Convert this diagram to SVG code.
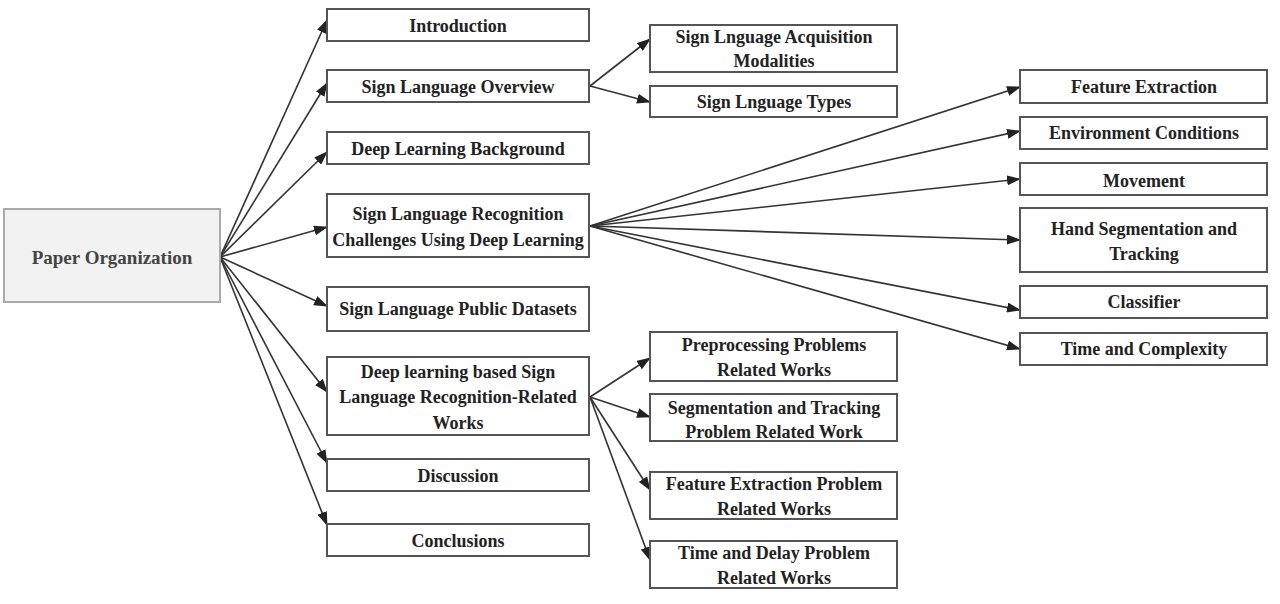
<svg xmlns="http://www.w3.org/2000/svg" width="1280" height="604" viewBox="0 0 1280 604">
<defs>
<marker id="arr" markerUnits="userSpaceOnUse" markerWidth="14" markerHeight="10" refX="13" refY="5" orient="auto">
<path d="M0,0 L14,5 L0,10 Z" fill="#222"/>
</marker>
<style>
.box{fill:#fff;stroke:#555;stroke-width:2}
.root{fill:#f2f2f2;stroke:#aaa;stroke-width:2}
.t{font-family:"Liberation Serif","Times New Roman",serif;font-weight:bold;font-size:18px;fill:#222;text-anchor:middle}
.rt{font-family:"Liberation Serif","Times New Roman",serif;font-weight:bold;font-size:19px;fill:#444;text-anchor:middle}
.c line{stroke:#333;stroke-width:1.6;marker-end:url(#arr)}
</style>
</defs>
<rect width="1280" height="604" fill="#fff"/>
<g class="c" id="connectors">
<line x1="220" y1="257" x2="327" y2="20"/>
<line x1="220" y1="257" x2="327" y2="83"/>
<line x1="220" y1="257" x2="327" y2="152"/>
<line x1="220" y1="257" x2="327" y2="227"/>
<line x1="220" y1="257" x2="327" y2="306"/>
<line x1="220" y1="257" x2="327" y2="392"/>
<line x1="220" y1="257" x2="327" y2="463"/>
<line x1="220" y1="257" x2="327" y2="525"/>
<line x1="590" y1="86" x2="650" y2="39"/>
<line x1="590" y1="86" x2="650" y2="102"/>
<line x1="590" y1="226" x2="1020" y2="87"/>
<line x1="590" y1="226" x2="1020" y2="131"/>
<line x1="590" y1="226" x2="1020" y2="179"/>
<line x1="590" y1="226" x2="1020" y2="240"/>
<line x1="590" y1="226" x2="1020" y2="310"/>
<line x1="590" y1="226" x2="1020" y2="349"/>
<line x1="590" y1="397" x2="650" y2="358"/>
<line x1="590" y1="397" x2="650" y2="417"/>
<line x1="590" y1="397" x2="650" y2="490"/>
<line x1="590" y1="397" x2="650" y2="560"/>
</g>
<g id="root"><rect class="root" x="4" y="209" width="216" height="93"/><text class="rt" x="112" y="264">Paper Organization</text></g>
<g id="intro"><rect class="box" x="327" y="9" width="262" height="32"/><text class="t" x="458" y="32">Introduction</text></g>
<g id="overview"><rect class="box" x="327" y="70" width="262" height="32"/><text class="t" x="458" y="93">Sign Language Overview</text></g>
<g id="dlbg"><rect class="box" x="327" y="132" width="262" height="32"/><text class="t" x="458" y="155">Deep Learning Background</text></g>
<g id="slrc"><rect class="box" x="327" y="194" width="262" height="63"/><text class="t" x="458" y="220">Sign Language Recognition</text><text class="t" x="458" y="246">Challenges Using Deep Learning</text></g>
<g id="datasets"><rect class="box" x="327" y="287" width="262" height="44"/><text class="t" x="458" y="315">Sign Language Public Datasets</text></g>
<g id="dlbased"><rect class="box" x="327" y="357" width="262" height="78"/><text class="t" x="458" y="378">Deep learning based Sign</text><text class="t" x="458" y="403">Language Recognition-Related</text><text class="t" x="458" y="429">Works</text></g>
<g id="discussion"><rect class="box" x="327" y="459" width="262" height="32"/><text class="t" x="458" y="482">Discussion</text></g>
<g id="conclusions"><rect class="box" x="327" y="524" width="262" height="32"/><text class="t" x="458" y="547">Conclusions</text></g>
<g id="acq"><rect class="box" x="650" y="25" width="247" height="47"/><text class="t" x="774" y="43">Sign Lnguage Acquisition</text><text class="t" x="774" y="67">Modalities</text></g>
<g id="types"><rect class="box" x="650" y="86" width="247" height="31"/><text class="t" x="774" y="108">Sign Lnguage Types</text></g>
<g id="prep"><rect class="box" x="650" y="332" width="247" height="49"/><text class="t" x="774" y="351">Preprocessing Problems</text><text class="t" x="774" y="376">Related Works</text></g>
<g id="segtrack"><rect class="box" x="650" y="394" width="247" height="47"/><text class="t" x="774" y="414">Segmentation and Tracking</text><text class="t" x="774" y="438">Problem Related Work</text></g>
<g id="featprob"><rect class="box" x="650" y="472" width="247" height="47"/><text class="t" x="774" y="490">Feature Extraction Problem</text><text class="t" x="774" y="515">Related Works</text></g>
<g id="timedelay"><rect class="box" x="650" y="541" width="247" height="47"/><text class="t" x="774" y="559">Time and Delay Problem</text><text class="t" x="774" y="584">Related Works</text></g>
<g id="featext"><rect class="box" x="1020" y="70" width="247" height="33"/><text class="t" x="1144" y="93">Feature Extraction</text></g>
<g id="env"><rect class="box" x="1020" y="117" width="247" height="32"/><text class="t" x="1144" y="139">Environment Conditions</text></g>
<g id="movement"><rect class="box" x="1020" y="163" width="247" height="32"/><text class="t" x="1144" y="187">Movement</text></g>
<g id="handseg"><rect class="box" x="1020" y="208" width="247" height="64"/><text class="t" x="1144" y="235">Hand Segmentation and</text><text class="t" x="1144" y="260">Tracking</text></g>
<g id="classifier"><rect class="box" x="1020" y="286" width="247" height="32"/><text class="t" x="1144" y="308">Classifier</text></g>
<g id="timecomp"><rect class="box" x="1020" y="333" width="247" height="32"/><text class="t" x="1144" y="355">Time and Complexity</text></g>
</svg>
